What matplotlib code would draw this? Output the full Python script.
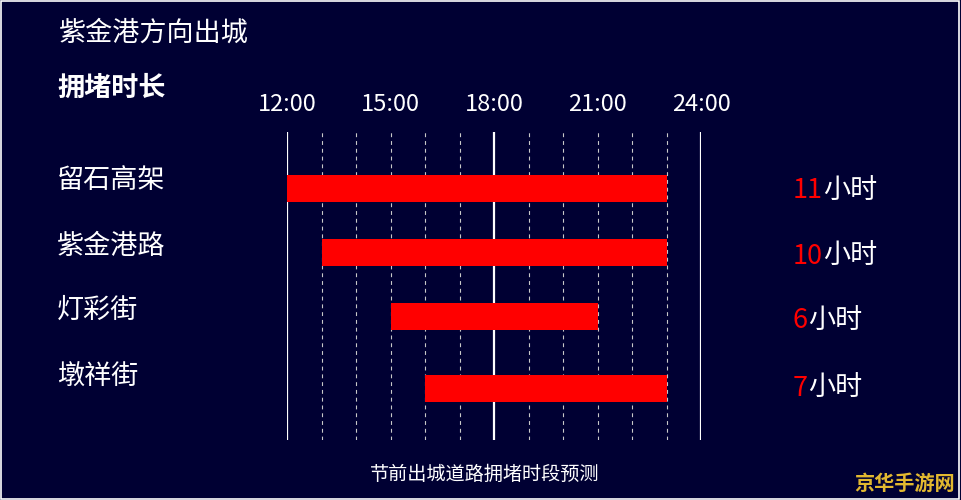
import matplotlib
matplotlib.use("Agg")
import matplotlib.pyplot as plt
from matplotlib.patches import Rectangle

plt.rcParams['font.family'] = ['Noto Sans CJK SC', 'DejaVu Sans']

# ---- data ----
roads = ['留石高架', '紫金港路', '灯彩街', '墩祥街']
start_hours = [12, 13, 15, 16]
end_hours = [23, 23, 21, 23]
durations = [11, 10, 6, 7]
tick_hours = [12, 15, 18, 21, 24]
tick_labels = ['12:00', '15:00', '18:00', '21:00', '24:00']
solid_hours = [12, 18, 24]
dashed_hours = [13, 14, 15, 16, 17, 19, 20, 21, 22, 23]
title = '紫金港方向出城'
subtitle = '拥堵时长'
caption = '节前出城道路拥堵时段预测'
watermark = '京华手游网'
unit = '小时'

# ---- layout ----
W, H = 961, 500
BG = '#000033'
fig = plt.figure(figsize=(W / 100, H / 100), dpi=100, facecolor=BG)

def fx(px):
    return px / W

def fy(py):
    return 1 - py / H

ax_left, ax_right, ax_top, ax_bottom = 287, 701, 132, 440
ax = fig.add_axes([fx(ax_left), fy(ax_bottom), fx(ax_right - ax_left), (ax_bottom - ax_top) / H])
ax.set_facecolor(BG)
ax.set_xlim(12, 24)
ax.set_ylim(ax_bottom, ax_top)
for s in ax.spines.values():
    s.set_visible(False)
ax.set_xticks([])
ax.set_yticks([])

for h in solid_hours:
    ax.axvline(h, color='white', lw=1.6, zorder=1)
for h in dashed_hours:
    ax.axvline(h, color='#c8c8c8', lw=0.8, dashes=(3.5, 3.5), zorder=1)

bar_centers = [188.5, 252.5, 316.5, 388.5]
bar_h = 27
widths = [e - s for s, e in zip(start_hours, end_hours)]
ax.barh(bar_centers, widths, left=start_hours, height=bar_h, color='#ff0000', zorder=3)

# tick labels on top
for h, lab in zip(tick_hours, tick_labels):
    xpix = ax_left + (h - 12) / 12 * (ax_right - ax_left)
    fig.text(fx(xpix), fy(111), lab, color='white', fontsize=17,
             ha='center', va='baseline')

FS = 19.5
# titles
fig.text(fx(59), fy(33), title, color='white', fontsize=FS, ha='left', va='center')
fig.text(fx(57), fy(88), subtitle, color='white', fontsize=FS, fontweight='bold',
         ha='left', va='center')

# road labels
label_y = [180, 246, 310, 377]
for name, y in zip(roads, label_y):
    fig.text(fx(57), fy(y), name, color='white', fontsize=FS, ha='left', va='center')

# duration labels
dur_y = [191, 256, 321, 388]
for d, y in zip(durations, dur_y):
    t = fig.text(fx(793), fy(y), str(d), color='#ff0000', fontsize=FS,
                 ha='left', va='center')
    ax.annotate(unit, xy=(1, 0.5), xycoords=t, color='white', fontsize=FS,
                ha='left', va='center', annotation_clip=False)

fig.text(fx(485), fy(474), caption, color='white', fontsize=13.8, ha='center', va='center')
fig.text(fx(905), fy(483), watermark, color='#e2b830', fontsize=14.5, fontweight='bold',
         ha='center', va='center')

# frame
fig.patches.append(Rectangle((0.001, 0.002), 0.997, 0.996, transform=fig.transFigure,
                             fill=False, edgecolor='white', lw=1.2))

fig.savefig('out.png', dpi=100, facecolor=BG)
